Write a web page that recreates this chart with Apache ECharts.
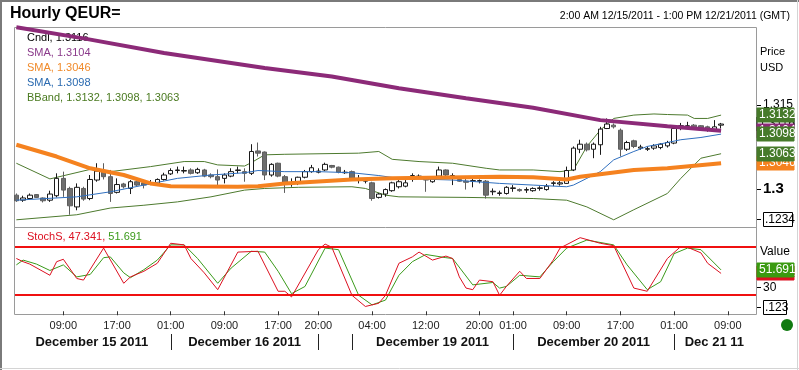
<!DOCTYPE html>
<html><head><meta charset="utf-8">
<script src="https://cdn.jsdelivr.net/npm/echarts@6.0.0/dist/echarts.min.js"></script>
<style>html,body{margin:0;padding:0;background:#fff;}#c{width:799px;height:370px;}</style>
</head><body><div id="c"></div>
<script>
const FONT = '"Liberation Sans", Arial, sans-serif';

// hourly candles: [open, close, low, high]
const ohlc = [
[1.2989,1.2979,1.2977,1.2992],[1.2980,1.2984,1.2977,1.2988],[1.2983,1.2989,1.2982,1.2992],[1.2990,1.2985,1.2984,1.2991],
[1.2984,1.2979,1.2976,1.2985],[1.2980,1.2991,1.2977,1.2997],[1.2988,1.3019,1.2985,1.3028],[1.3019,1.2998,1.2986,1.3031],
[1.3001,1.2970,1.2954,1.3004],[1.2968,1.3003,1.2962,1.3010],[1.3001,1.2982,1.2979,1.3004],[1.2983,1.3017,1.2980,1.3025],
[1.3016,1.3032,1.3013,1.3046],[1.3031,1.3022,1.3017,1.3046],[1.3022,1.2992,1.2977,1.3034],[1.2994,1.3008,1.2992,1.3019],
[1.3009,1.3004,1.3001,1.3011],[1.3001,1.3013,1.2991,1.3016],[1.3013,1.3007,1.3005,1.3016],[1.3011,1.3007,1.3001,1.3013],
[1.3008,1.3011,1.3007,1.3016],[1.3009,1.3017,1.3007,1.3019],[1.3017,1.3025,1.3015,1.3029],[1.3027,1.3033,1.3025,1.3037],
[1.3033,1.3034,1.3028,1.3040],[1.3032,1.3033,1.3028,1.3040],[1.3034,1.3028,1.3026,1.3037],[1.3029,1.3035,1.3027,1.3038],
[1.3034,1.3023,1.3021,1.3036],[1.3025,1.3022,1.3019,1.3028],[1.3022,1.3016,1.3007,1.3035],[1.3019,1.3025,1.3010,1.3028],
[1.3023,1.3031,1.3021,1.3037],[1.3033,1.3034,1.3028,1.3040],[1.3031,1.3028,1.3013,1.3037],[1.3028,1.3067,1.3025,1.3080],
[1.3068,1.3064,1.3058,1.3083],[1.3066,1.3025,1.3016,1.3067],[1.3025,1.3044,1.3022,1.3046],[1.3046,1.3023,1.3021,1.3047],
[1.3022,1.3009,1.2993,1.3025],[1.3010,1.3011,1.3004,1.3019],[1.3010,1.3021,1.3007,1.3022],[1.3021,1.3031,1.3019,1.3034],
[1.3031,1.3038,1.3029,1.3043],[1.3030,1.3032,1.3028,1.3037],[1.3034,1.3044,1.3032,1.3047],[1.3042,1.3039,1.3037,1.3043],
[1.3039,1.3030,1.3028,1.3040],[1.3029,1.3030,1.3027,1.3034],[1.3031,1.3019,1.3017,1.3033],[1.3017,1.3018,1.3010,1.3025],
[1.3014,1.3016,1.3010,1.3019],[1.3011,1.2983,1.2979,1.3013],[1.2985,1.2991,1.2983,1.2993],[1.2991,1.2999,1.2986,1.3001],
[1.2997,1.3011,1.2995,1.3013],[1.3004,1.3013,1.3001,1.3016],[1.3005,1.3011,1.3003,1.3016],[1.3017,1.3024,1.3013,1.3028],
[1.3021,1.3023,1.3018,1.3026],[1.3021,1.3016,1.2995,1.3023],[1.3013,1.3019,1.3011,1.3021],[1.3023,1.3034,1.3021,1.3040],
[1.3034,1.3025,1.3022,1.3035],[1.3023,1.3024,1.3007,1.3028],[1.3017,1.3014,1.3013,1.3019],[1.3014,1.3012,1.2999,1.3022],
[1.3014,1.3015,1.3003,1.3019],[1.3014,1.3015,1.3010,1.3017],[1.3014,1.2989,1.2983,1.3016],[1.2995,1.2996,1.2989,1.3001],
[1.2992,1.2993,1.2988,1.2997],[1.2992,1.3003,1.2990,1.3005],[1.3001,1.3002,1.2995,1.3007],[1.2999,1.2997,1.2995,1.3001],
[1.2998,1.2999,1.2993,1.3003],[1.2997,1.3001,1.2995,1.3003],[1.3001,1.3002,1.2997,1.3005],[1.2999,1.3005,1.2997,1.3009],
[1.3010,1.3011,1.3005,1.3014],[1.3009,1.3011,1.3006,1.3014],[1.3010,1.3033,1.3009,1.3040],[1.3034,1.3073,1.3032,1.3076],
[1.3071,1.3080,1.3064,1.3088],[1.3080,1.3070,1.3067,1.3083],[1.3071,1.3080,1.3055,1.3083],[1.3079,1.3107,1.3061,1.3111],
[1.3108,1.3116,1.3107,1.3126],[1.3114,1.3111,1.3108,1.3117],[1.3105,1.3071,1.3058,1.3108],[1.3071,1.3083,1.3068,1.3086],
[1.3086,1.3076,1.3073,1.3088],[1.3073,1.3075,1.3070,1.3079],[1.3071,1.3072,1.3068,1.3076],[1.3073,1.3077,1.3070,1.3080],
[1.3074,1.3080,1.3071,1.3082],[1.3077,1.3083,1.3074,1.3086],[1.3082,1.3108,1.3080,1.3111],[1.3112,1.3113,1.3105,1.3118],
[1.3112,1.3113,1.3108,1.3120],[1.3114,1.3111,1.3110,1.3116],[1.3113,1.3108,1.3107,1.3114],[1.3111,1.3107,1.3102,1.3113],
[1.3105,1.3111,1.3104,1.3123],[1.3114,1.3116,1.3108,1.3118]
];

// moving averages and bands, [bar index, value]
const smaLong = [[0,1.3289],[10,1.3269],[22,1.3243],[37,1.3216],[47,1.3201],[57,1.3180],[67,1.3162],[77,1.3145],[87,1.3123],[97,1.3112],[105,1.3104]];
const smaMid = [[0,1.3079],[6,1.3058],[11,1.3037],[16,1.3025],[20,1.3010],[23,1.3005],[33,1.3004],[36,1.3005],[40,1.3010],[50,1.3017],[56,1.3019],[72,1.3022],[77,1.3021],[82,1.3017],[84,1.3022],[92,1.3034],[97,1.3037],[105,1.3046]];
const smaShort = [[0,1.2980],[9,1.2986],[14,1.2995],[19,1.3007],[24,1.3019],[29,1.3025],[34,1.3029],[36,1.3033],[40,1.3031],[45,1.3031],[50,1.3029],[54,1.3024],[57,1.3019],[65,1.3016],[72,1.3010],[77,1.3007],[82,1.3004],[83,1.3007],[85,1.3019],[87,1.3031],[89,1.3052],[92,1.3067],[94,1.3076],[97,1.3083],[99,1.3088],[102,1.3092],[105,1.3098]];
const bbUpper = [[0,1.3046],[5,1.3018],[11,1.3035],[14,1.3031],[20,1.3040],[25,1.3049],[28,1.3049],[30,1.3043],[34,1.3041],[35,1.3047],[37,1.3061],[40,1.3062],[51,1.3064],[54,1.3067],[56,1.3053],[60,1.3049],[65,1.3046],[70,1.3037],[72,1.3034],[77,1.3034],[81,1.3031],[83,1.3034],[85,1.3076],[87,1.3105],[89,1.3126],[92,1.3132],[95,1.3134],[97,1.3133],[100,1.3132],[101,1.3126],[103,1.3126],[105,1.3132]];
const bbLower = [[0,1.2945],[9,1.2954],[14,1.2966],[19,1.2971],[24,1.2977],[29,1.2986],[34,1.2998],[37,1.3001],[42,1.3003],[50,1.3004],[52,1.3001],[55,1.2989],[57,1.2986],[67,1.2985],[77,1.2983],[82,1.2980],[85,1.2968],[89,1.2945],[92,1.2963],[97,1.2992],[99,1.3019],[102,1.3055],[105,1.3063]];

// slow stochastic, [bar index, value]
const stochK = [[0,66],[1,62],[2,59],[5,45],[6,62],[7,65],[9,41],[10,39],[13,79],[16,35],[17,43],[19,50],[21,60],[23,85],[25,83],[26,66],[28,48],[30,27],[33,74],[36,75],[39,25],[40,25],[41,18],[45,77],[46,84],[47,80],[50,20],[52,6],[54,10],[55,20],[57,60],[59,68],[60,74],[62,64],[64,69],[65,66],[66,43],[67,29],[68,27],[69,39],[71,37],[72,20],[73,31],[75,50],[76,41],[78,41],[80,64],[81,79],[84,92],[87,85],[89,82],[92,29],[94,25],[97,66],[99,81],[100,80],[102,73],[103,60],[105,47.341]];
const stochD = [[0,58],[1,64],[3,59],[5,51],[7,58],[9,43],[11,46],[13,67],[14,68],[16,48],[17,42],[19,52],[21,64],[23,83],[25,83],[27,66],[30,35],[32,54],[35,75],[37,74],[39,50],[41,22],[43,31],[46,79],[48,77],[51,20],[53,8],[55,14],[57,45],[59,62],[61,71],[64,67],[65,66],[68,33],[71,36],[72,29],[73,31],[75,45],[78,43],[80,62],[82,79],[85,89],[89,83],[91,58],[94,27],[96,37],[98,72],[100,79],[102,77],[105,51.691]];

const tickIdx = [7,15,23,31,39,45,53,61,69,74,82,90,98,106];
const tickText = ['09:00','17:00','01:00','09:00','17:00','20:00','04:00','12:00','20:00','01:00','09:00','17:00','01:00','09:00'];
const dayBounds = [-0.5,23,45,50,74,98,110];
const dayText = ['December 15 2011','December 16 2011','','December 19 2011','December 20 2011','Dec 21 11'];
const priceTicks = [1.315,1.3];
const stochTicks = [30];
const stochLevels = [80,20];
const lastCndl = 1.3116, lastSmaLong = 1.3104, lastSmaMid = 1.3046, lastSmaShort = 1.3098;
const lastBB = [1.3132,1.3098,1.3063];
const lastK = 47.341, lastD = 51.691;
const N = 111;
const cats = Array.from({length:N},(_,i)=>String(i));

const C = {purple:'#8c2a78', purpleT:'#8a3a8a', orange:'#f5821f', orangeT:'#f08a2a', blue:'#2f6fbf', blueT:'#2a6ab0', green:'#4d7a2e', greenT:'#4a7a20', red:'#dc1020', sgreen:'#3a9a1a', box:'#467a2a'};

const chart = echarts.init(document.getElementById('c'), null, {renderer:'canvas'});
const lineS = (data, color, width, z) => ({type:'line', xAxisIndex:0, yAxisIndex:0, data, symbol:'none', lineStyle:{color, width}, z, silent:true});
chart.setOption({
  animation:false,
  grid:[{left:13,width:745,top:27,height:201},{left:13,width:745,top:228,height:86}],
  xAxis:[
    {type:'category',gridIndex:0,data:cats,boundaryGap:true,show:false},
    {type:'category',gridIndex:1,data:cats,boundaryGap:true,axisLine:{show:false},
     axisTick:{show:true,alignWithLabel:true,interval:(i)=>tickIdx.includes(i),length:4,lineStyle:{color:'#333'}},
     axisLabel:{interval:(i)=>tickIdx.includes(i),formatter:(v,i)=>{const k=tickIdx.indexOf(Number(v));return k>=0?tickText[k]:'';},fontSize:11,fontFamily:FONT,color:'#222',margin:6},
     splitLine:{show:false}}
  ],
  yAxis:[
    {type:'value',gridIndex:0,min:1.293036,max:1.328929,show:false},
    {type:'value',gridIndex:1,min:-3.4,max:104.1,show:false}
  ],
  series:[
    lineS(bbUpper,C.green,1,2), lineS(bbLower,C.green,1,2),
    {type:'candlestick',xAxisIndex:0,yAxisIndex:0,data:ohlc,barWidth:5,z:3,silent:true,
     itemStyle:{color:'#ffffff',color0:'#6e6e6e',borderColor:'#1a1a1a',borderColor0:'#5e5e5e',borderWidth:1}},
    lineS(smaShort,C.blue,1,4), lineS(smaMid,C.orange,4,5), lineS(smaLong,C.purple,4,6),
    {type:'line',xAxisIndex:1,yAxisIndex:1,data:stochD,symbol:'none',lineStyle:{color:C.sgreen,width:1},z:4,silent:true},
    {type:'line',xAxisIndex:1,yAxisIndex:1,data:stochK,symbol:'none',lineStyle:{color:C.red,width:1},z:5,silent:true}
  ]
});

const x0 = chart.convertToPixel({xAxisIndex:0},0);
const step = chart.convertToPixel({xAxisIndex:0},1) - x0;
const xf = i => x0 + i*step;
const py = v => chart.convertToPixel({yAxisIndex:0},v);
const sy = v => chart.convertToPixel({yAxisIndex:1},v);

const g = [];
const ln = (x1,y1,x2,y2,stroke,w) => g.push({type:'line',shape:{x1,y1,x2,y2},style:{stroke,lineWidth:w||1},silent:true});
const tx = (x,y,t,o) => g.push({type:'text',x,y,silent:true,style:Object.assign({text:t,font:'11px '+FONT,fill:'#000',align:'left',verticalAlign:'middle',textAlign:'left',textVerticalAlign:'middle'},o||{})});
const box = (y,t,bg,fg,stroke) => {
  g.push({type:'rect',shape:{x:757,y:Math.round(y)-7,width:37,height:14},style:{fill:bg,stroke:stroke||bg,lineWidth:1},silent:true});
  tx(759,Math.round(y),t,{fill:fg,font:'12px '+FONT});
};

// outer frame
ln(0,1,799,1,'#7a7a7a',2); ln(1,0,1,370,'#7a7a7a',2);
ln(0,368.5,799,368.5,'#d4d4d4',1); ln(797.5,0,797.5,370,'#d4d4d4',1);
// panel frames
const FG='#9a9a9a';
ln(14.5,27.5,756.5,27.5,FG); ln(14.5,27.5,14.5,314.5,FG); ln(756.5,27.5,756.5,314.5,FG);
ln(14.5,227.5,756.5,227.5,FG); ln(14.5,314.5,756.5,314.5,FG);
// stochastic 80 / 20 levels
stochLevels.forEach(v=>{const y=Math.round(sy(v))-1; g.push({type:'rect',z:10,shape:{x:15,y:y,width:741,height:2},style:{fill:'#f01010'},silent:true});});

// title and header
tx(10,14,'Hourly QEUR=',{font:'bold 16px '+FONT});
tx(790,16,'2:00 AM 12/15/2011 - 1:00 PM 12/21/2011 (GMT)',{font:'10.5px '+FONT,align:'right',textAlign:'right'});
// legends
tx(27,38,'Cndl, '+lastCndl.toFixed(4),{fill:'#000'});
tx(27,53,'SMA, '+lastSmaLong.toFixed(4),{fill:C.purpleT});
tx(27,68,'SMA, '+lastSmaMid.toFixed(4),{fill:C.orangeT});
tx(27,83,'SMA, '+lastSmaShort.toFixed(4),{fill:C.blueT});
tx(27,98,'BBand, '+lastBB.map(v=>v.toFixed(4)).join(', '),{fill:C.greenT});
g.push({type:'text',x:27,y:237,silent:true,style:{text:'{a|StochS, '+lastK.toFixed(3)+', }{b|'+lastD.toFixed(3)+'}',font:'11px '+FONT,verticalAlign:'middle',textVerticalAlign:'middle',rich:{a:{fill:C.red,font:'11px '+FONT},b:{fill:C.sgreen,font:'11px '+FONT}}}});

// right price axis
tx(760,52,'Price'); tx(760,68,'USD');
priceTicks.forEach(v=>{const y=Math.round(py(v))+0.5; ln(757,y,761,y,'#000');});
tx(763,py(priceTicks[0]),'1.315',{font:'12px '+FONT});
tx(763,py(priceTicks[1]),'1.3',{font:'bold 15px '+FONT});
ln(757,219.5,761,219.5,'#000');
g.push({type:'rect',shape:{x:763.5,y:212.5,width:29,height:14},style:{fill:'#fff',stroke:'#000',lineWidth:1},silent:true});
tx(765,220,'.1234',{font:'12px '+FONT});
box(py(lastSmaMid),lastSmaMid.toFixed(4),'#f5821f','#fff');
box(py(lastCndl),lastCndl.toFixed(4),'#fff','#000','#000');
box(py(lastSmaLong),lastSmaLong.toFixed(4),C.purple,'#fff');
box(py(lastBB[2]),lastBB[2].toFixed(4),C.box,'#fff');
box(py(lastBB[0]),lastBB[0].toFixed(4),C.box,'#fff');
box(py(lastBB[1]),lastBB[1].toFixed(4),C.box,'#fff');

// right stochastic axis
tx(760,252,'Value',{font:'12px '+FONT});
box(sy(lastK),lastK.toFixed(3),'#dc1020','#fff');
box(sy(lastD),lastD.toFixed(3),'#3a9a10','#fff');
stochTicks.forEach(v=>{const y=Math.round(sy(v))+0.5; ln(757,y,761,y,'#000'); tx(763,y,String(v),{font:'12px '+FONT});});
ln(757,307.5,761,307.5,'#000');
g.push({type:'rect',shape:{x:763.5,y:300.5,width:23,height:14},style:{fill:'#fff',stroke:'#000',lineWidth:1},silent:true});
tx(765,308,'.123',{font:'12px '+FONT});

// date row
for (let k=0;k<dayText.length;k++){
  const a=dayBounds[k], b=dayBounds[k+1];
  if (dayText[k]) tx((xf(a)+xf(b))/2,342,dayText[k],{font:'bold 13px '+FONT,fill:'#111',align:'center',textAlign:'center'});
  if (k>0){const xs=Math.round(xf(a))+0.5; ln(xs,334,xs,350,'#222');}
}
// status dot
g.push({type:'circle',shape:{cx:787,cy:325,r:6},style:{fill:'#107a10'},silent:true});

chart.setOption({graphic:{elements:g}});
</script></body></html>
